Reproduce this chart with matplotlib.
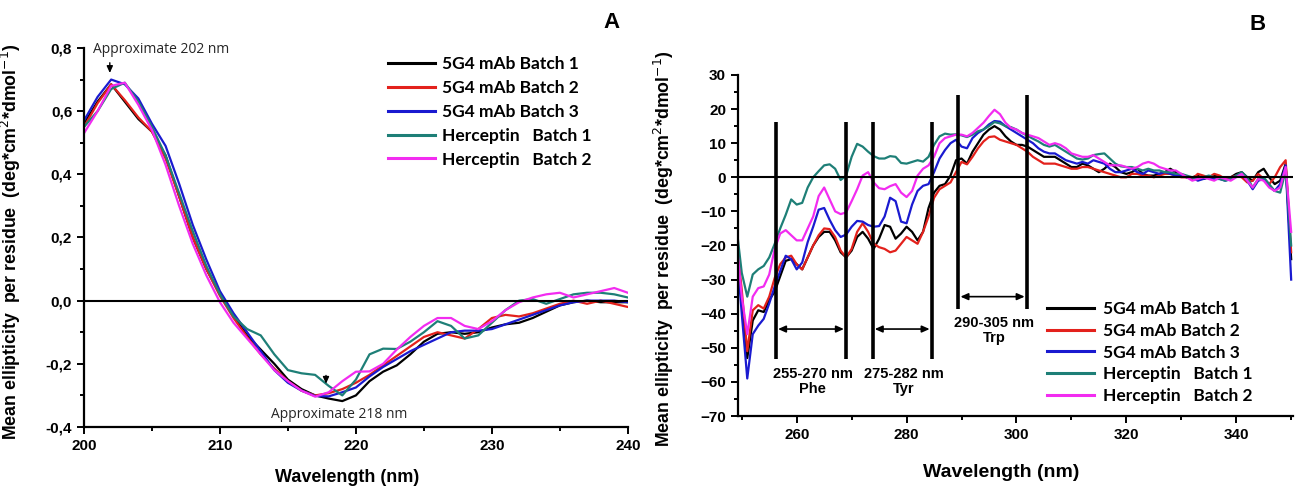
import numpy as np
import matplotlib
matplotlib.use("Agg")
import matplotlib.pyplot as plt
from matplotlib.ticker import MultipleLocator, FuncFormatter

plt.rcParams["font.family"] = ["Liberation Sans", "DejaVu Sans"]

SERIES = ["5G4 mAb Batch 1", "5G4 mAb Batch 2", "5G4 mAb Batch 3",
          "Herceptin   Batch 1", "Herceptin   Batch 2"]
COLORS = ["#000000", "#e3211c", "#1a1ad0", "#1e7f77", "#f22cf0"]

# panel A: far-UV CD, 200-240 nm
wl_a = np.arange(200, 241)
a_mab1 = [0.56, 0.63, 0.685, 0.63, 0.575, 0.535, 0.46, 0.33, 0.2, 0.1,
          0.02, -0.05, -0.11, -0.155, -0.2, -0.25, -0.28, -0.3, -0.31, -0.318,
          -0.3, -0.255, -0.225, -0.205, -0.17, -0.13, -0.105, -0.1, -0.105, -0.1,
          -0.085, -0.075, -0.07, -0.055, -0.035, -0.015, -0.005, 0.0, -0.005, -0.005,
          -0.005]
a_mab2 = [0.55, 0.625, 0.685, 0.635, 0.58, 0.535, 0.45, 0.33, 0.2, 0.1,
          0.015, -0.055, -0.115, -0.17, -0.215, -0.255, -0.285, -0.3, -0.293, -0.28,
          -0.26, -0.235, -0.205, -0.175, -0.145, -0.115, -0.1, -0.11, -0.12, -0.09,
          -0.055, -0.045, -0.05, -0.04, -0.025, -0.01, 0.0, -0.01, 0.0, -0.01,
          -0.02]
a_mab3 = [0.57, 0.645, 0.70, 0.685, 0.64, 0.56, 0.49, 0.37, 0.24, 0.13,
          0.03, -0.04, -0.1, -0.16, -0.22, -0.26, -0.285, -0.302, -0.303, -0.29,
          -0.275, -0.24, -0.21, -0.185, -0.16, -0.14, -0.12, -0.1, -0.095, -0.095,
          -0.09, -0.075, -0.06, -0.045, -0.03, -0.015, -0.005, 0.0, 0.0, 0.0,
          -0.005]
a_her1 = [0.55, 0.6, 0.67, 0.69, 0.63, 0.55, 0.46, 0.34, 0.22, 0.11,
          0.02, -0.05, -0.09, -0.11, -0.17, -0.22, -0.23, -0.235, -0.27, -0.3,
          -0.25, -0.17, -0.152, -0.153, -0.13, -0.1, -0.065, -0.08, -0.12, -0.11,
          -0.07, -0.03, 0.0, 0.005, -0.01, 0.005, 0.02, 0.025, 0.025, 0.02,
          0.01]
a_her2 = [0.53, 0.6, 0.68, 0.69, 0.62, 0.54, 0.43, 0.3, 0.18, 0.08,
          -0.005, -0.07, -0.12, -0.17, -0.22, -0.255, -0.285, -0.304, -0.29, -0.255,
          -0.225, -0.224, -0.2, -0.155, -0.115, -0.08, -0.055, -0.055, -0.08, -0.09,
          -0.065, -0.03, -0.005, 0.01, 0.02, 0.025, 0.01, 0.02, 0.03, 0.04,
          0.025]

# panel B: near-UV CD, 249-350 nm
wl_b = np.arange(249, 351)
b_mab1 = [-18, -36, -53, -42, -39, -39.5, -36, -33.5, -29, -24.5,
          -24, -25.5, -27, -23.5, -20, -17.5, -16, -16, -18.5, -22,
          -23.5, -21.5, -17.5, -16, -18, -21, -18, -14, -14.5, -18,
          -16.5, -14.5, -16, -18.5, -16, -9, -4.5, -2.5, -2, 0.5,
          5, 5.5, 4, 7.5, 10, 12.5, 14, 15, 14, 12,
          10.5, 9.5, 9.5, 9, 8, 7, 6, 6, 6, 5,
          4, 3, 3, 4, 3.5, 2.5, 1.5, 2.5, 4, 3,
          1.5, 1, 1.5, 2.5, 1, 0.5, 0.5, 1, 1.5, 2.5,
          1.5, 0.5, 0, 0, 0.5, -0.5, 0, 0.5, 0, -0.5,
          0, 1, 1.5, 0, -1, 1.5, 2.5, 0, -2, -1,
          4, -24]
b_mab2 = [-18, -33, -51, -39, -37.5, -38.5, -35, -29.5, -25.5, -23.5,
          -23, -25.5, -27, -23.5, -20, -17, -15, -15.2, -17.5, -21.5,
          -23.5, -21, -16, -13.5, -16, -19.5, -20.5, -21, -22, -21.5,
          -19.5, -17.5, -18.5, -19.5, -16, -11.5, -6, -3.5, -2.5, -1.5,
          1.5, 4.5, 3.8, 6, 8.5, 10.5, 11.8, 12, 11, 10.5,
          10, 9.5, 8.5, 7.5, 6, 5, 4, 4, 4, 3.5,
          3, 2.5, 2.5, 3, 3, 2.5, 2, 1.5, 1, 0.5,
          0, 0, 1, 1, 0.5, 0.5, 0, 0.5, 1, 1,
          0.5, 0, 0, -0.5, 1, 0.5, 0, 1, 0.5, -0.5,
          0, 0.5, 0, -1.5, -1, 1, -0.5, -2, 0, 3,
          5, -22]
b_mab3 = [-20, -40, -59, -46, -43.5, -41.5, -37, -32, -27.5, -23,
          -24, -27, -25, -19, -14.5, -9.5, -9, -12.5, -15.5, -17.5,
          -16.8, -14.5, -12.8, -13, -14, -14.5, -14.3, -11.5, -6, -7,
          -13, -13.5, -8, -4, -2.5, -2, 1.5, 5.5, 8, 10,
          11, 9, 8.5, 11.5, 13, 14, 15.5, 16.5, 16.3, 15,
          14, 13, 12, 11, 10, 8.5, 7.5, 7, 7, 6,
          5, 4.5, 4, 4.5, 4, 5, 4.5, 4, 2.5, 1.5,
          1.5, 2, 2.5, 1.5, 1, 2, 1.5, 1, 1.5, 1,
          0.5, 0.5, 0, 0, -1, -0.5, 0, -0.5, -0.5, -1,
          -0.5, 0.5, 1, -1, -3.5, -1, -0.5, -2.5, -4, -2,
          3.5, -30]
b_her1 = [-14, -28, -35, -28.5, -27, -26, -23.5, -19.5, -15, -11,
          -6.5, -8, -7.5, -3, 0, 1.8, 3.5, 3.8, 2.5, -0.8,
          0.5, 6, 9.8, 9, 7.5, 6.2, 5.5, 5.5, 6.2, 6,
          4.2, 4, 4.5, 5, 4.6, 6, 9.5, 12, 12.8, 12.5,
          12.6, 12.3, 11.8, 12.5, 13.5, 14, 15, 16.2, 15.8, 15,
          14.7, 14, 13, 12.2, 11.3, 10.5, 9.5, 9, 9.5, 8.5,
          7.5, 6.5, 5.5, 5.2, 5.5, 6.5, 6.8, 7, 5.5, 4,
          3.2, 3, 3, 2.5, 2, 2.5, 2, 2, 1.5, 1.5,
          1, 1, 0.5, 0, -0.5, 0, 0.5, 0, -0.5, -1,
          -0.5, 0.5, 1.5, 0, -3, -0.5, 0, -2, -4, -4.5,
          2, -20]
b_her2 = [-18, -35, -46, -35, -32.5, -32, -28.5, -21, -16.5, -15.5,
          -17, -18.5, -18.5, -15, -11.5, -5.5, -3, -6.5, -10, -10.8,
          -10.3, -7, -3.5, 0.5, 1.5, -1.5, -3.2, -3.5, -2.6, -2,
          -4.5, -5.8, -4, 0.5, 2.5, 3.5, 6, 10, 11.5, 12,
          12.5, 12.5, 12, 13, 14.5, 16, 18, 19.8, 18.5, 16,
          14.5, 14, 13, 12.5, 12, 11.5, 10.5, 9.5, 10, 9.5,
          8.5, 7, 6.5, 6, 6, 6.5, 5.5, 4.5, 3.5, 3.5,
          3.5, 3, 2.5, 3, 4, 4.5, 4, 3, 2.5, 2,
          2, 1, 0, -1, -0.5, 0, -0.5, -1, 0, -0.5,
          -1, 0, 1, -1, -3, -0.5, -1, -3, -4, -3,
          3, -16]

# aromatic bands marked in panel B
band_edges = [(256.2, 269.0), (273.8, 284.6), (289.4, 301.9)]
band_names = ["255-270 nm\nPhe", "275-282 nm\nTyr", "290-305 nm\nTrp"]

YLABEL = "Mean ellipticity  per residue  (deg*cm$^{2}$*dmol$^{-1}$)"


def style_axes(ax):
    for side in ["top", "right"]:
        ax.spines[side].set_visible(False)
    for side in ["left", "bottom"]:
        ax.spines[side].set_linewidth(1.6)
    ax.tick_params(which="both", direction="out", width=1.4, labelsize=11)
    ax.tick_params(which="major", length=5)
    ax.tick_params(which="minor", length=3)
    for lab in ax.get_xticklabels() + ax.get_yticklabels():
        lab.set_fontweight("bold")


fig = plt.figure(figsize=(12.98, 4.9), dpi=100)

# ---- panel A
ax = fig.add_axes([0.0647, 0.1286, 0.419, 0.7735])
for vals, name, col in zip([a_mab1, a_mab2, a_mab3, a_her1, a_her2], SERIES, COLORS):
    ax.plot(wl_a, vals, color=col, lw=1.6, label=name)
ax.axhline(0, color="black", lw=1.5)
ax.set_xlim(200, 240)
ax.set_ylim(-0.4, 0.8)
ax.xaxis.set_major_locator(MultipleLocator(10))
ax.xaxis.set_minor_locator(MultipleLocator(5))
ax.yaxis.set_major_locator(MultipleLocator(0.2))
ax.yaxis.set_minor_locator(MultipleLocator(0.1))
ax.yaxis.set_major_formatter(FuncFormatter(lambda v, p: f"{v:.1f}".replace(".", ",").replace("-0,0", "0,0")))
style_axes(ax)
ax.set_xlabel("Wavelength (nm)", fontsize=13, fontweight="bold")
ax.xaxis.set_label_coords(0.483, -0.11)
ax.set_ylabel(YLABEL, fontsize=12.8, fontweight="bold")
ax.yaxis.set_label_coords(-0.112, 0.49)

note_font = ["Open Sans", "DejaVu Sans"]
ax.text(205.7, 0.795, "Approximate 202 nm", ha="center", va="center",
        fontsize=10, color="#262626", family=note_font)
ax.annotate("", xy=(201.9, 0.712), xytext=(201.9, 0.762),
            arrowprops=dict(arrowstyle="-|>,head_length=0.4,head_width=0.18", lw=1.0, color="black"))
ax.text(218.8, -0.362, "Approximate 218 nm", ha="center", va="center",
        fontsize=10, color="#262626", family=note_font)
ax.annotate("", xy=(217.8, -0.272), xytext=(217.8, -0.228),
            arrowprops=dict(arrowstyle="-|>,head_length=0.4,head_width=0.18", lw=1.0, color="black"))

leg = ax.legend(loc="upper left", bbox_to_anchor=(0.559, 0.978), frameon=False,
                borderpad=0, borderaxespad=0, handlelength=2.7, handletextpad=0.4,
                labelspacing=0.45, prop={"family": ["Lato", "DejaVu Sans"], "weight": "bold", "size": 12.5})
for line in leg.get_lines():
    line.set_linewidth(2.2)

# ---- panel B
bx = fig.add_axes([0.5685, 0.1510, 0.4275, 0.6960])
for vals, name, col in zip([b_mab1, b_mab2, b_mab3, b_her1, b_her2], SERIES, COLORS):
    bx.plot(wl_b, vals, color=col, lw=1.6, label=name)
bx.axhline(0, color="black", lw=1.5)
bx.set_xlim(249.3, 350.3)
bx.set_ylim(-70, 30)
bx.xaxis.set_major_locator(MultipleLocator(20))
bx.xaxis.set_minor_locator(MultipleLocator(10))
bx.yaxis.set_major_locator(MultipleLocator(10))
bx.yaxis.set_minor_locator(MultipleLocator(5))
style_axes(bx)
bx.set_xlabel("Wavelength (nm)", fontsize=14, fontweight="bold")
bx.xaxis.set_label_coords(0.474, -0.14)
bx.set_ylabel(YLABEL, fontsize=12.8, fontweight="bold")
bx.yaxis.set_label_coords(-0.111, 0.49)

# band markers: tall bars, double arrows and labels
bar_spans = [(-53.2, 16.3), (-53.2, 16.3), (-38.6, 24.1)]
arrow_y = [-44.5, -44.5, -35.0]
label_y = [-60.0, -60.0, -44.8]
for (lo, hi), (ymin, ymax), ay, ly, txt in zip(band_edges, bar_spans, arrow_y, label_y, band_names):
    bx.vlines([lo, hi], ymin, ymax, color="black", lw=2.6)
    bx.annotate("", xy=(lo + 0.4, ay), xytext=(hi - 0.4, ay),
                arrowprops=dict(arrowstyle="<|-|>,head_length=0.45,head_width=0.2",
                                lw=1.2, color="black", shrinkA=0, shrinkB=0))
    bx.text((lo + hi) / 2 + 0.3, ly, txt, ha="center", va="center", fontsize=10.5,
            fontweight="bold", linespacing=1.1)

leg_b = bx.legend(loc="upper left", bbox_to_anchor=(0.557, 0.336), frameon=False,
                  borderpad=0, borderaxespad=0, handlelength=2.7, handletextpad=0.5,
                  labelspacing=0.32, prop={"family": ["Lato", "DejaVu Sans"], "weight": "bold", "size": 12.5})
for line in leg_b.get_lines():
    line.set_linewidth(2.2)

fig.text(612 / 1298, 1 - 22 / 490, "A", ha="center", va="center", fontsize=16, fontweight="bold")
fig.text(1258 / 1298, 1 - 25 / 490, "B", ha="center", va="center", fontsize=16, fontweight="bold")

fig.savefig("out.png", dpi=100)
